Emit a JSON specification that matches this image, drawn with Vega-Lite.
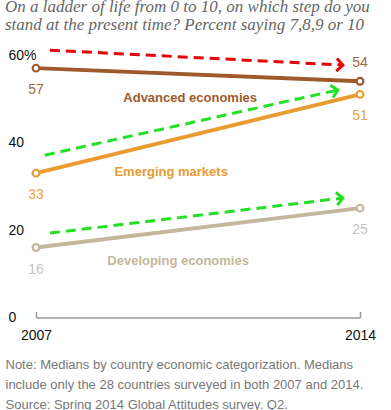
{
  "$schema": "https://vega.github.io/schema/vega-lite/v6.json",
  "autosize": "none",
  "width": 324,
  "height": 262.5,
  "padding": {"left": 36, "top": 55, "right": 31, "bottom": 92.5},
  "background": "white",
  "config": {"view": {"stroke": null}},
  "title": {
    "text": ["On a ladder of life from 0 to 10, on which step do you", "stand at the present time? Percent saying 7,8,9 or 10"],
    "anchor": "start",
    "frame": "group",
    "font": "Liberation Serif",
    "fontStyle": "italic",
    "fontWeight": "normal",
    "fontSize": 17,
    "lineHeight": 18,
    "color": "#666666",
    "baseline": "bottom",
    "dx": -31,
    "offset": -7
  },
  "resolve": {"scale": {"color": "independent", "stroke": "independent"}},
  "datasets": {
    "series": [
      {"series": "Advanced economies", "year": 2007, "value": 57},
      {"series": "Advanced economies", "year": 2014, "value": 54},
      {"series": "Emerging markets", "year": 2007, "value": 33},
      {"series": "Emerging markets", "year": 2014, "value": 51},
      {"series": "Developing economies", "year": 2007, "value": 16},
      {"series": "Developing economies", "year": 2014, "value": 25}
    ],
    "arrows": [
      {"arrow": "a1", "year": 2007.3, "value": 61.1, "tip": false},
      {"arrow": "a1", "year": 2013.63, "value": 57.7, "tip": true},
      {"arrow": "a2", "year": 2007.19, "value": 37.1, "tip": false},
      {"arrow": "a2", "year": 2013.52, "value": 52.0, "tip": true},
      {"arrow": "a3", "year": 2007.3, "value": 19.3, "tip": false},
      {"arrow": "a3", "year": 2013.63, "value": 27.3, "tip": true}
    ],
    "names": [
      {"series": "Advanced economies", "year": 2010.33, "value": 50.2},
      {"series": "Emerging markets", "year": 2009.92, "value": 33.3},
      {"series": "Developing economies", "year": 2010.07, "value": 12.9}
    ]
  },
  "encoding": {
    "x": {
      "field": "year", "type": "quantitative",
      "scale": {"domain": [2007, 2014], "nice": false, "zero": false},
      "axis": {
        "values": [2007, 2014], "format": "d", "grid": false,
        "domainColor": "#999999", "domainWidth": 1.5,
        "tickColor": "#999999", "tickSize": -6, "tickWidth": 1.5,
        "labelFont": "Liberation Sans", "labelFontSize": 14, "labelColor": "#111111",
        "labelPadding": 17, "labelFlush": false,
        "title": ["Note: Medians by country economic categorization. Medians", "include only the 28 countries surveyed in both 2007 and 2014.", "Source: Spring 2014 Global Attitudes survey. Q2."],
        "titleFont": "Liberation Sans", "titleFontSize": 13, "titleFontWeight": "normal",
        "titleColor": "#777777", "titleLineHeight": 20,
        "titleAnchor": "start", "titleAlign": "left", "titleBaseline": "middle",
        "titleX": -31, "titleY": 47
      }
    },
    "y": {
      "field": "value", "type": "quantitative",
      "scale": {"domain": [0, 60], "nice": false},
      "axis": {
        "values": [0, 20, 40, 60], "grid": false, "domain": false, "ticks": false,
        "labelExpr": "datum.value == 60 ? '60%' : datum.label",
        "labelFont": "Liberation Sans", "labelFontSize": 14, "labelColor": "#111111",
        "labelAlign": "left", "labelPadding": 28, "title": null
      }
    }
  },
  "layer": [
    {
      "data": {"name": "arrows"},
      "mark": {"type": "line", "strokeDash": [10, 6], "strokeWidth": 3, "clip": false},
      "encoding": {
        "detail": {"field": "arrow"},
        "color": {"field": "arrow", "type": "nominal", "scale": {"domain": ["a1", "a2", "a3"], "range": ["#e8000b", "#22e022", "#22e022"]}, "legend": null}
      }
    },
    {
      "data": {"name": "arrows"},
      "transform": [{"filter": "datum.tip && datum.arrow == 'a1'"}],
      "mark": {"type": "point", "shape": "M-1,-1L0,0L-1,1", "filled": false, "stroke": "#e8000b", "strokeWidth": 3, "size": 160, "angle": 3, "opacity": 1}
    },
    {
      "data": {"name": "arrows"},
      "transform": [{"filter": "datum.tip && datum.arrow == 'a2'"}],
      "mark": {"type": "point", "shape": "M-1,-1L0,0L-1,1", "filled": false, "stroke": "#22e022", "strokeWidth": 3, "size": 160, "angle": -12.5, "opacity": 1}
    },
    {
      "data": {"name": "arrows"},
      "transform": [{"filter": "datum.tip && datum.arrow == 'a3'"}],
      "mark": {"type": "point", "shape": "M-1,-1L0,0L-1,1", "filled": false, "stroke": "#22e022", "strokeWidth": 3, "size": 160, "angle": -6.8, "opacity": 1}
    },
    {
      "data": {"name": "series"},
      "mark": {"type": "line", "strokeWidth": 4},
      "encoding": {
        "detail": {"field": "series"},
        "stroke": {"field": "series", "type": "nominal", "scale": {"domain": ["Advanced economies", "Emerging markets", "Developing economies"], "range": ["#9e5a2b", "#e99b30", "#c4b79c"]}, "legend": null}
      }
    },
    {
      "data": {"name": "series"},
      "mark": {"type": "point", "filled": true, "fill": "white", "size": 45, "strokeWidth": 2.2, "opacity": 1},
      "encoding": {
        "stroke": {"field": "series", "type": "nominal", "scale": {"domain": ["Advanced economies", "Emerging markets", "Developing economies"], "range": ["#9e5a2b", "#e99b30", "#c4b79c"]}, "legend": null}
      }
    },
    {
      "data": {"name": "series"},
      "transform": [{"filter": "!(datum.series == 'Advanced economies' && datum.year == 2014)"}],
      "mark": {"type": "text", "font": "Liberation Sans", "fontSize": 14, "dy": 22, "align": "center", "baseline": "middle"},
      "encoding": {
        "text": {"field": "value", "type": "quantitative"},
        "color": {"field": "series", "type": "nominal", "scale": {"domain": ["Advanced economies", "Emerging markets", "Developing economies"], "range": ["#a06a42", "#e9a448", "#c6c4bc"]}, "legend": null}
      }
    },
    {
      "data": {"name": "series"},
      "transform": [{"filter": "datum.series == 'Advanced economies' && datum.year == 2014"}],
      "mark": {"type": "text", "font": "Liberation Sans", "fontSize": 14, "dy": -18, "align": "center", "baseline": "middle", "color": "#a06a42"},
      "encoding": {
        "text": {"field": "value", "type": "quantitative"}
      }
    },
    {
      "data": {"name": "names"},
      "mark": {"type": "text", "font": "Liberation Sans", "fontSize": 13, "fontWeight": "bold", "align": "center", "baseline": "middle"},
      "encoding": {
        "text": {"field": "series"},
        "color": {"field": "series", "type": "nominal", "scale": {"domain": ["Advanced economies", "Emerging markets", "Developing economies"], "range": ["#9e5a2b", "#e99b30", "#c4b79c"]}, "legend": null}
      }
    }
  ]
}
